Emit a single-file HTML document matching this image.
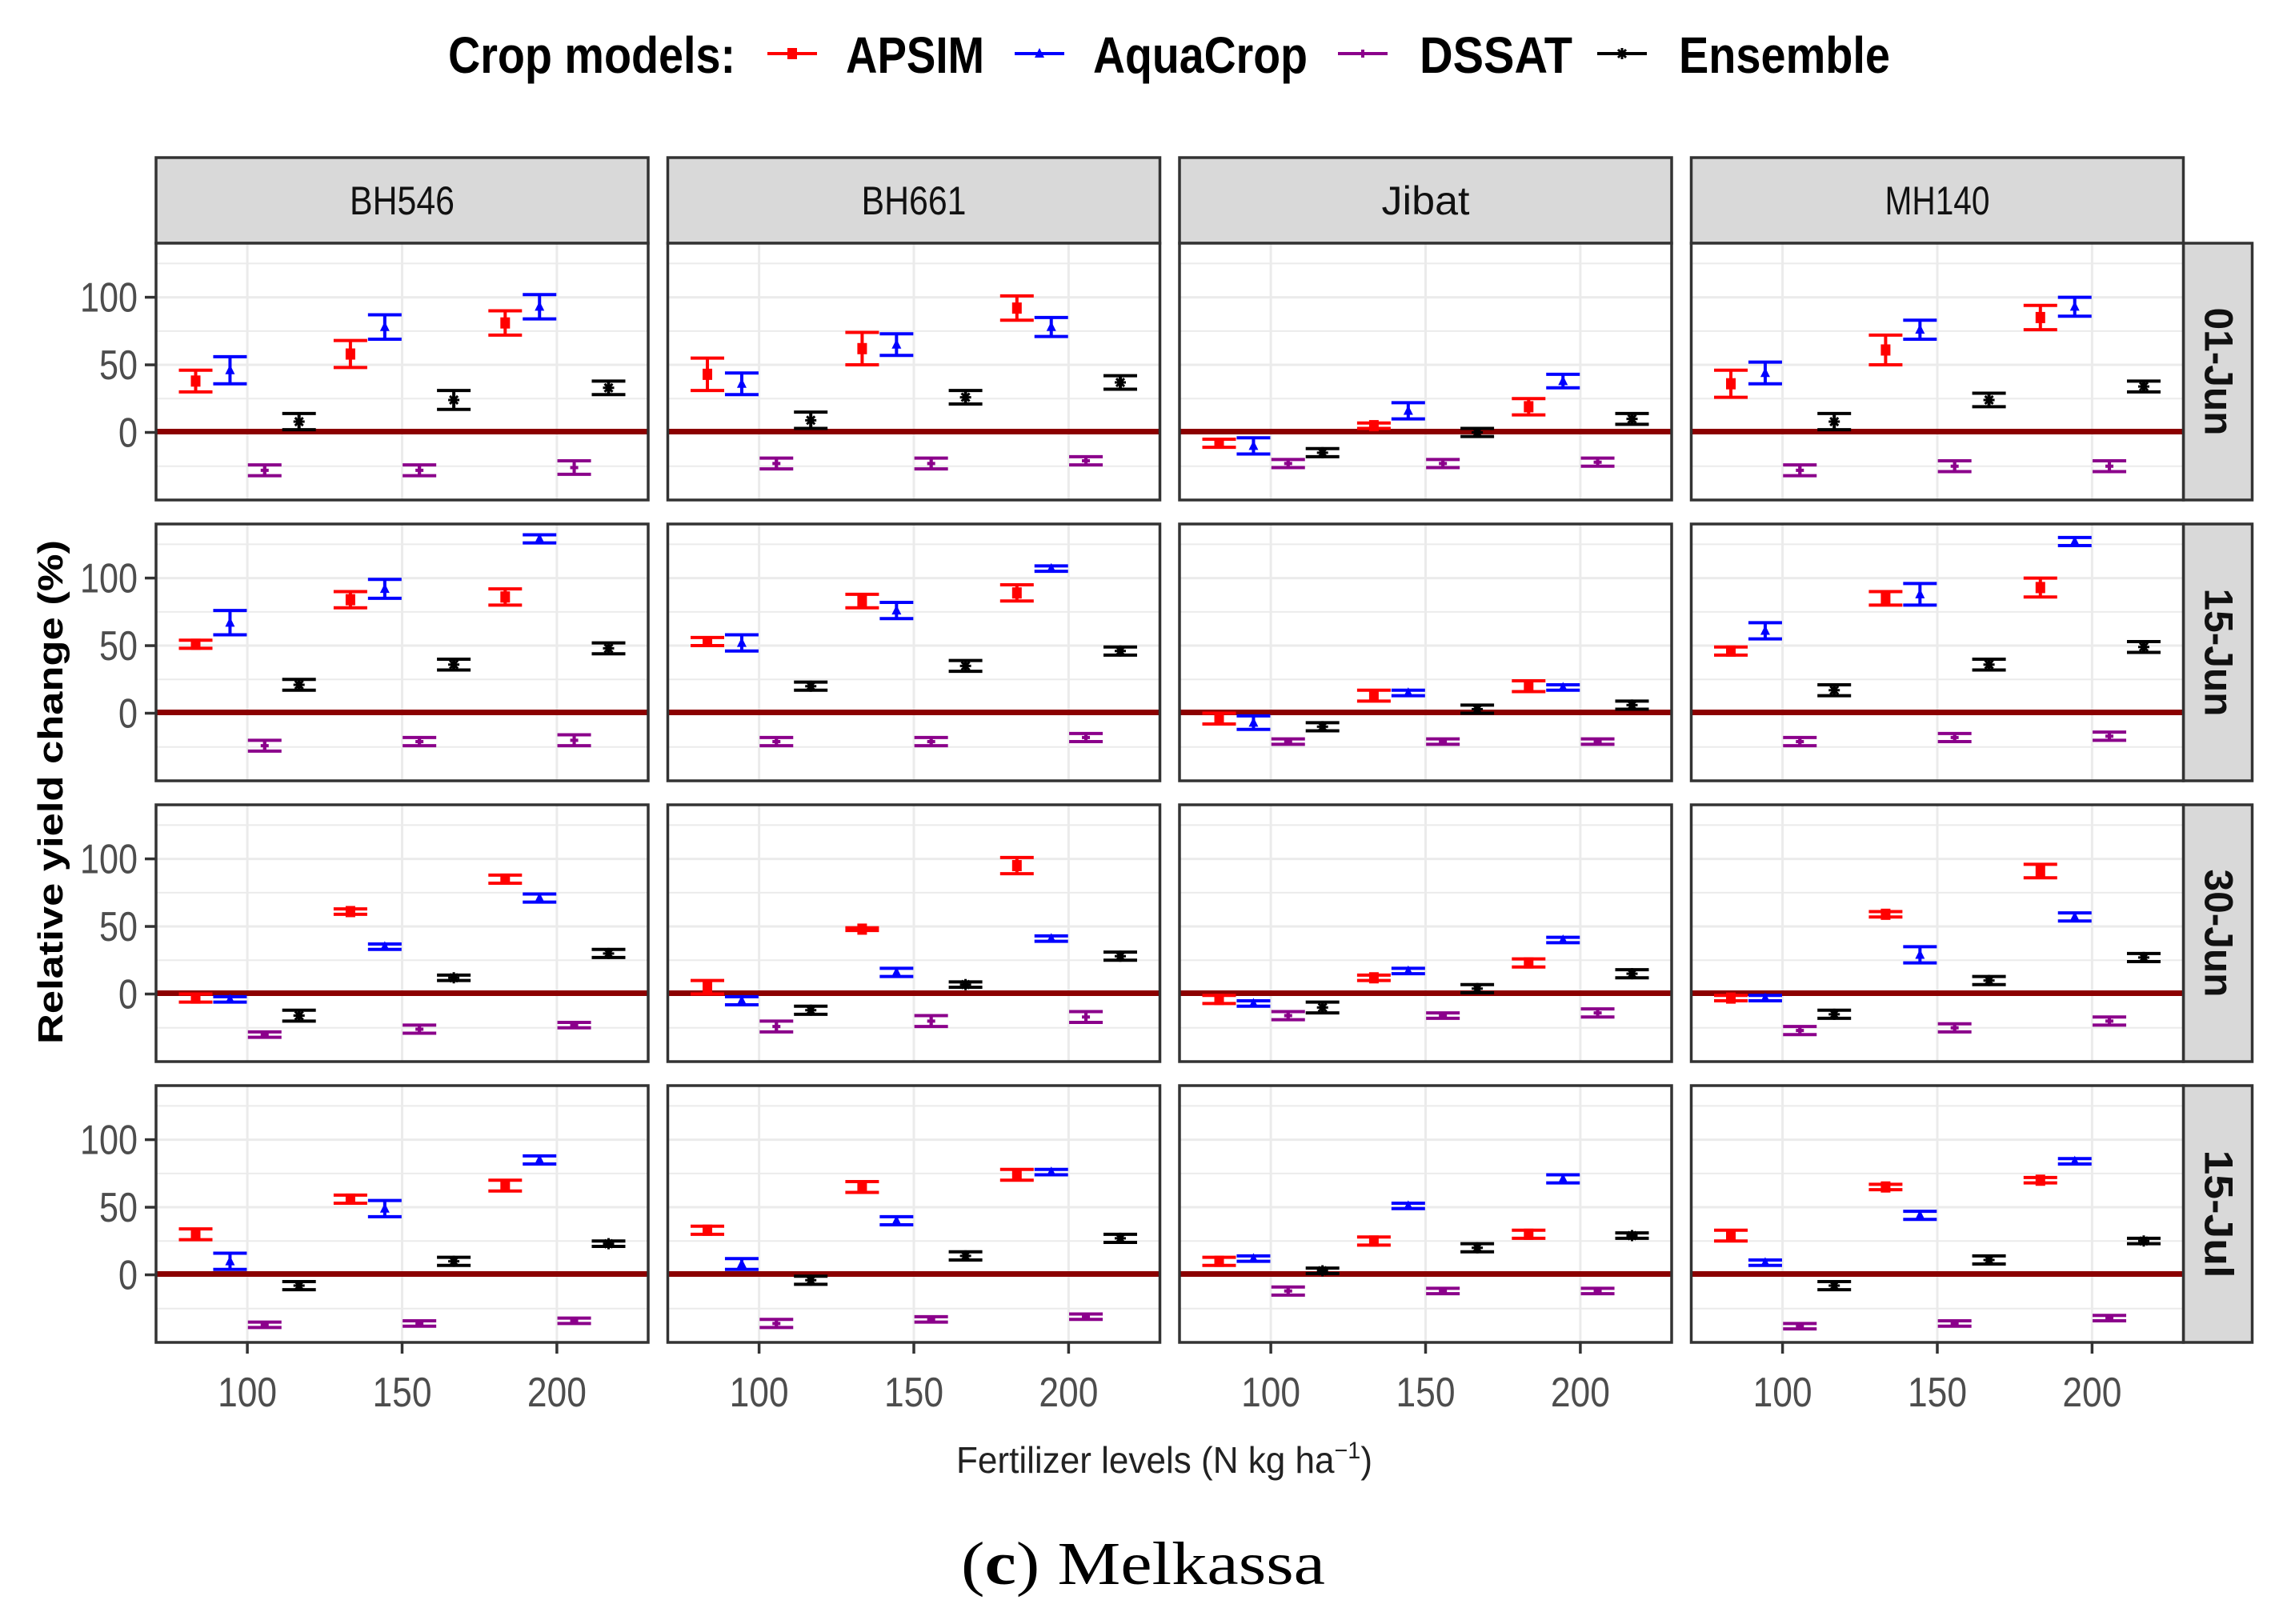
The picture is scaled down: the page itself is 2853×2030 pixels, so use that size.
<!DOCTYPE html>
<html>
<head>
<meta charset="utf-8">
<style>
html,body{margin:0;padding:0;background:#fff;}
svg{display:block;}
text{font-family:"Liberation Sans",sans-serif;}
</style>
</head>
<body>
<svg id="chart" width="2853" height="2030" viewBox="0 0 2853 2030" xmlns="http://www.w3.org/2000/svg">
  <g id="legend">
    <text x="560" y="91" font-size="64" font-weight="bold" fill="#000" textLength="359" lengthAdjust="spacingAndGlyphs">Crop models:</text>
  </g>
  <g id="panels"></g>
  <text transform="translate(78,990) rotate(-90)" text-anchor="middle" font-size="44" font-weight="bold" fill="#000" textLength="630" lengthAdjust="spacingAndGlyphs">Relative yield change (%)</text>
  <text x="1195" y="1841" font-size="46" fill="#222" textLength="520" lengthAdjust="spacingAndGlyphs">Fertilizer levels (N kg ha<tspan dy="-18" font-size="30">−1</tspan><tspan dy="18">)</tspan></text>
  <text x="1201" y="1980" font-size="76" fill="#000" style="font-family:'Liberation Serif',serif" textLength="455" lengthAdjust="spacingAndGlyphs">(<tspan font-weight="bold">c</tspan>) Melkassa</text>
</svg>
<script>
const varieties = ["BH546","BH661","Jibat","MH140"];
const dates = ["01-Jun","15-Jun","30-Jun","15-Jul"];
const levels = [100,150,200];
const models = ["APSIM","AquaCrop","DSSAT","Ensemble"];
const yTicks = [0,50,100];
const yMinor = [-25,25,75,125];
const xTicks = [100,150,200];

const apsimMean = [
  [[38,58,81],[43,62,92],[-8,5,19],[36,61,85]],
  [[51,84,86],[53,83,89],[-4,13,20],[46,85,93]],
  [[-3,61,85],[5,48,95],[-4,12,23],[-3,59,91]],
  [[30,56,66],[33,65,74],[10,25,30],[29,65,70]]
];
const apsimErr = [
  [[8,10,9],[12,12,9],[3,2,6],[10,11,9]],
  [[3,6,6],[3,5,6],[4,4,4],[3,5,7]],
  [[3,2,3],[5,1,6],[3,2,3],[2,2,5]],
  [[4,3,4],[3,4,4],[3,3,3],[4,2,2]]
];
const aquaMean = [
  [[46,78,93],[36,65,78],[-10,16,38],[44,76,93]],
  [[67,92,129],[52,76,107],[-7,15,19],[61,88,127]],
  [[-4,35,71],[-5,16,41],[-7,17,40],[-3,29,57]],
  [[10,49,85],[8,40,76],[12,51,71],[9,44,84]]
];
const aquaErr = [
  [[10,9,9],[8,8,7],[6,6,5],[8,7,7]],
  [[9,7,3],[6,6,2],[5,2,2],[6,8,3]],
  [[2,2,3],[3,3,2],[2,2,2],[2,6,3]],
  [[6,6,3],[4,3,2],[2,2,3],[2,3,2]]
];
const dssatMean = [
  [[-28,-28,-26],[-23,-23,-21],[-23,-23,-22],[-28,-25,-25]],
  [[-24,-21,-20],[-21,-21,-18],[-21,-21,-21],[-21,-18,-17]],
  [[-30,-26,-23],[-24,-20,-17],[-16,-16,-14],[-27,-25,-20]],
  [[-37,-36,-34],[-36,-33,-31],[-12,-12,-12],[-38,-36,-32]]
];
const dssatErr = [
  [[4,4,5],[4,4,3],[3,3,3],[4,4,4]],
  [[4,3,4],[3,3,3],[2,2,2],[3,3,3]],
  [[2,3,2],[4,4,4],[3,2,3],[3,3,3]],
  [[2,2,2],[3,2,2],[3,2,2],[2,2,2]]
];
const ensMean = [
  [[8,24,33],[9,26,37],[-15,0,10],[8,24,34]],
  [[21,36,48],[20,35,46],[-10,3,6],[17,36,49]],
  [[-16,12,30],[-12,7,28],[-10,4,15],[-15,10,27]],
  [[-8,10,23],[-4,14,27],[3,20,29],[-8,11,25]]
];
const ensErr = [
  [[6,7,5],[6,5,5],[3,3,4],[6,5,4]],
  [[4,4,4],[3,4,3],[3,3,3],[4,4,4]],
  [[4,2,3],[3,2,3],[4,3,3],[3,3,3]],
  [[3,3,2],[3,3,3],[2,3,2],[3,3,2]]
];

const NS = "http://www.w3.org/2000/svg";
const svg = document.getElementById("chart");
const panelsG = document.getElementById("panels");
const legendG = document.getElementById("legend");
const colors = ["#ff0000","#0000ff","#8b008b","#000000"];
const means = [apsimMean, aquaMean, dssatMean, ensMean];
const errs = [apsimErr, aquaErr, dssatErr, ensErr];
const dodge = [-16.7,-5.6,5.6,16.7];
const stripW = [131,131,110,131];

const PW = 615, PH = 321, X0 = 195, XSTEP = 639.5, Y0 = 304, YSTEP = 351;
const XMIN = 70.5, XMAX = 229.5, YMIN = -50, YMAX = 140;
function xScale(col, v){ return X0 + col*XSTEP + (v - XMIN)/(XMAX - XMIN)*PW; }
function yScale(row, v){ return Y0 + row*YSTEP + (YMAX - v)/(YMAX - YMIN)*PH; }

function mk(tag, attrs, parent){
  const e = document.createElementNS(NS, tag);
  for (const k in attrs) e.setAttribute(k, attrs[k]);
  (parent || svg).appendChild(e);
  return e;
}

function marker(g, m, cx, cy, col){
  if (m === 0) return mk("rect",{x:cx-6,y:cy-7,width:12,height:14,fill:col},g);
  if (m === 1) return mk("path",{d:`M${cx},${cy-7}L${cx+6},${cy+5}L${cx-6},${cy+5}Z`,fill:col},g);
  if (m === 2) return mk("path",{d:`M${cx-5},${cy}H${cx+5}M${cx},${cy-5}V${cy+5}`,stroke:col,"stroke-width":4},g);
  return mk("path",{d:`M${cx-7},${cy}H${cx+7}M${cx},${cy-7}V${cy+7}M${cx-5},${cy-5}L${cx+5},${cy+5}M${cx-5},${cy+5}L${cx+5},${cy-5}`,stroke:col,"stroke-width":3},g);
}

const legKeyX = [959,1268,1672,1996];
const legTextX = [1057,1366,1774,2098];
const legTextW = [173,268,191,264];
models.forEach((name,i)=>{
  const g = mk("g",{},legendG);
  
  
  mk("line",{x1:legKeyX[i],x2:legKeyX[i]+62,y1:67,y2:67,stroke:colors[i],"stroke-width":4},g);
  marker(g, i, legKeyX[i]+31, 67, colors[i]);
  const t = mk("text",{x:legTextX[i],y:91,"font-size":64,"font-weight":"bold",fill:"#000",textLength:legTextW[i],lengthAdjust:"spacingAndGlyphs"},g);
  t.textContent = name;
});

varieties.forEach((v,c)=>{
  const g = mk("g",{},panelsG);
  
  
  mk("rect",{x:X0+c*XSTEP,y:197,width:PW,height:107,fill:"#d9d9d9",stroke:"#333","stroke-width":3.5},g);
  const t = mk("text",{x:X0+c*XSTEP+PW/2,y:268,"text-anchor":"middle","font-size":50,fill:"#111",textLength:stripW[c],lengthAdjust:"spacingAndGlyphs"},g);
  t.textContent = v;
});

dates.forEach((d,r)=>{
  const g = mk("g",{},panelsG);
  
  
  const top = Y0 + r*YSTEP;
  const sx = X0 + 3*XSTEP + PW;
  mk("rect",{x:sx,y:top,width:86,height:PH,fill:"#d9d9d9",stroke:"#333","stroke-width":3.5},g);
  const t = mk("text",{transform:`translate(${sx+27},${top+PH/2}) rotate(90)`,"text-anchor":"middle","font-size":50,"font-weight":"bold",fill:"#111",textLength:160,lengthAdjust:"spacingAndGlyphs"},g);
  t.textContent = d;
});

for (let r=0;r<4;r++){
  for (let c=0;c<4;c++){
    const g = mk("g",{},panelsG);
    
    
    const left = X0 + c*XSTEP, top = Y0 + r*YSTEP;
    mk("rect",{x:left,y:top,width:PW,height:PH,fill:"#fff"},g);
    yMinor.forEach(v=>{
      const y = yScale(r,v);
      if (y>top && y<top+PH) mk("line",{x1:left,x2:left+PW,y1:y,y2:y,stroke:"#ebebeb","stroke-width":2},g);
    });
    yTicks.forEach(v=>{
      const y = yScale(r,v);
      mk("line",{x1:left,x2:left+PW,y1:y,y2:y,stroke:"#ebebeb","stroke-width":3},g);
    });
    xTicks.forEach(v=>{
      const x = xScale(c,v);
      mk("line",{x1:x,x2:x,y1:top,y2:top+PH,stroke:"#ebebeb","stroke-width":3},g);
    });
    const zl = mk("line",{x1:left,x2:left+PW,y1:yScale(r,0)-1,y2:yScale(r,0)-1,stroke:"#8b0000","stroke-width":7},g);
    
    
    for (let m=0;m<4;m++){
      for (let l=0;l<3;l++){
        const mean = means[m][r][c][l], e = errs[m][r][c][l];
        const cx = xScale(c, levels[l] + dodge[m]);
        const yh = yScale(r, mean + e), yl = yScale(r, mean - e), ym = yScale(r, mean);
        const eg = mk("g",{},g);
        
        
        mk("path",{d:`M${cx-21},${yh}H${cx+21}M${cx-21},${yl}H${cx+21}M${cx},${yh}V${yl}`,stroke:colors[m],"stroke-width":4,fill:"none"},eg);
        marker(eg, m, cx, ym, colors[m]);
      }
    }
    mk("rect",{x:left,y:top,width:PW,height:PH,fill:"none",stroke:"#333","stroke-width":3.5},g);
    if (c===0){
      yTicks.forEach(v=>{
        const y = yScale(r,v);
        mk("line",{x1:181,x2:left,y1:y,y2:y,stroke:"#333","stroke-width":3.5},g);
        const t = mk("text",{x:172,y:y+18,"text-anchor":"end","font-size":52,fill:"#4d4d4d",textLength:String(v).length*24,lengthAdjust:"spacingAndGlyphs"},g);
        
        
        t.textContent = v;
      });
    }
    if (r===3){
      xTicks.forEach(v=>{
        const x = xScale(c,v);
        mk("line",{x1:x,x2:x,y1:top+PH,y2:top+PH+14,stroke:"#333","stroke-width":3.5},g);
        const t = mk("text",{x:x,y:1758,"text-anchor":"middle","font-size":52,fill:"#4d4d4d",textLength:74,lengthAdjust:"spacingAndGlyphs"},g);
        
        
        t.textContent = v;
      });
    }
  }
}
</script>
</body>
</html>
